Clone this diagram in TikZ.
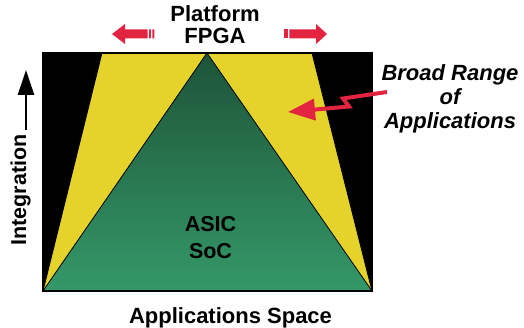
\documentclass[tikz,border=0pt]{standalone}
\usepackage{fontspec}
\setmainfont{Liberation Sans}
\usetikzlibrary{arrows.meta}

\definecolor{fpgayellow}{RGB}{229,210,42}
\definecolor{asicdark}{RGB}{29,84,56}
\definecolor{asiclight}{RGB}{52,152,104}
\definecolor{arrowred}{RGB}{226,36,64}

\tikzset{
  label/.style={font=\bfseries\fontsize{22}{22}\selectfont, align=center, inner sep=0pt},
  widearrow/.style={fill=arrowred}
}

\begin{document}
\begin{tikzpicture}[x=1pt, y=-1pt]
\useasboundingbox (0,0) rectangle (524,328);

\filldraw[line width=1.5pt] (43,53) rectangle (372,291);
\filldraw[fill=fpgayellow, line width=0.8pt] (102,53) -- (312,53) -- (372,291) -- (43,291) -- cycle;
\shade[top color=asicdark, bottom color=asiclight, draw=black, line width=0.8pt]
  (207,53) -- (372,291) -- (43,291) -- cycle;
\draw[line width=1.5pt] (43,53) rectangle (372,291);

\node[label] (platform) at (215,24.5) {Platform\\FPGA};
\node[label, font=\bfseries\fontsize{21.5}{26.6}\selectfont] (asic) at (210.5,237.5) {ASIC\\SoC};
\node[label, anchor=base] (space) at (230.5,323) {Applications Space};
\node[label, rotate=90, font=\bfseries\fontsize{21.5}{22}\selectfont] (integ) at (20.5,190) {Integration};
\node[label, font=\bfseries\itshape\fontsize{22}{23.7}\selectfont] (broad) at (450,99) {Broad Range\\of\\Applications};

% widening arrows either side of the title
\fill[widearrow] (112,34) -- (125,24) -- (125,29.5) -- (147.5,29.5) -- (147.5,38.5)
  -- (125,38.5) -- (125,44) -- cycle;
\fill[widearrow] (149,29.5) rectangle (150.8,38.5)   (152.3,29.5) rectangle (154.3,38.5);

\fill[widearrow] (327,34) -- (316,24) -- (316,29.5) -- (289.3,29.5) -- (289.3,38.5)
  -- (316,38.5) -- (316,44) -- cycle;
\fill[widearrow] (284.3,29.5) rectangle (287.7,38.5);

\coordinate (intbase) at (26,130);
\coordinate (inttip) at (26,70);
\draw[line width=2.5pt, -{Triangle[length=25pt, width=16pt]}] (intbase) -- (inttip);

\coordinate (tail) at (387,92);
\coordinate (hit) at (288,112);
\draw[arrowred, line width=4pt, line join=miter, -{Triangle[length=27pt, width=21pt]}]
  (tail) -- (343,98.5) -- (349,106.5) -- (hit);
\end{tikzpicture}
\end{document}
